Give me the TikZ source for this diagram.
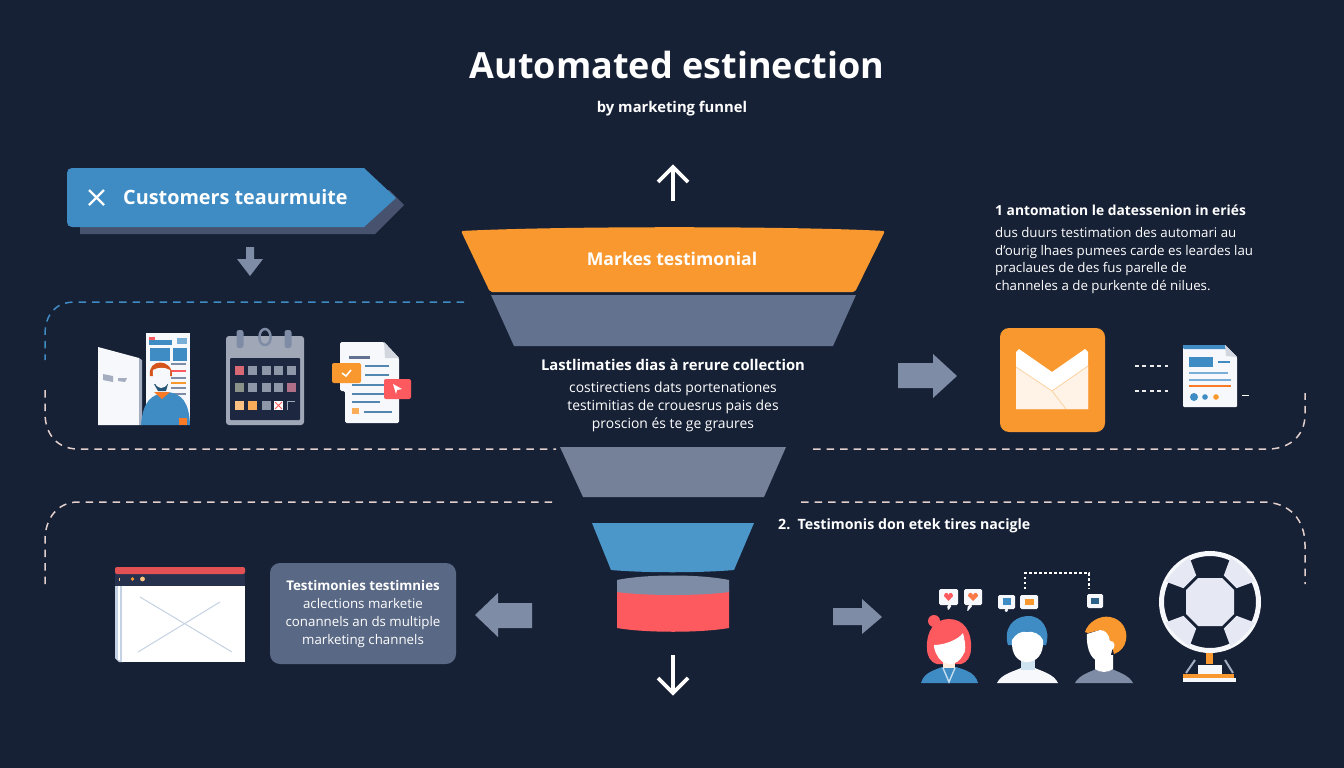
\documentclass[tikz,border=0pt]{standalone}
\usepackage{fontspec}
\setmainfont{Open Sans}
\definecolor{bg}{HTML}{172136}
\definecolor{blu}{HTML}{3F8CC4}
\definecolor{blul}{HTML}{4C97C9}
\definecolor{slate}{HTML}{62728F}
\definecolor{slated}{HTML}{47536E}
\definecolor{gry}{HTML}{7F8CA5}
\definecolor{org}{HTML}{F9982F}
\definecolor{redd}{HTML}{FC5A5F}
\definecolor{dashp}{HTML}{E3D0CC}
\definecolor{paper}{HTML}{F7F8FB}
\definecolor{navy}{HTML}{26324D}
\definecolor{panel}{HTML}{1D2840}
\definecolor{crossline}{HTML}{C5D2E4}
\definecolor{calbody}{HTML}{A0A8B8}
\definecolor{calcell}{HTML}{8D97A8}
\definecolor{patch}{HTML}{E6E9F3}
\tikzset{
  txt/.style={text=white,inner sep=0pt,font=\fontsize{#1}{17.8}\selectfont,align=center},
  hd/.style={text=white,inner sep=0pt,font=\fontsize{#1}{#1}\selectfont\bfseries,align=center},
  dashline/.style={dash pattern=on 7.5pt off 6pt,line width=1.5pt,dashp},
  bluedash/.style={dash pattern=on 7.5pt off 6pt,line width=1.5pt,blu},
  flatarrow/.style={fill=gry},
  whitearrow/.style={draw=white,line width=3.8pt,line join=miter},
  chip/.style={fill=paper,rounded corners=1.5pt}
}
\begin{document}
\begin{tikzpicture}[x=1pt,y=-1pt]
\useasboundingbox (0,0) rectangle (1344,768);
\fill[bg] (0,0) rectangle (1344,768);

% heading
\node[hd=36] (title) at (677,65) {Automated estinection};
\node[hd=14.8] (subtitle) at (672,108.5) {by marketing funnel};

% vertical arrows on the funnel axis
\coordinate (upT) at (673,167);
\coordinate (upB) at (673,201);
\draw[whitearrow] (upB) -- (upT);
\draw[whitearrow] (658,182) -- (upT) -- (688,182);
\coordinate (dnT) at (673,655);
\coordinate (dnB) at (673,693);
\draw[whitearrow] (dnT) -- (dnB);
\draw[whitearrow] (658,678) -- (dnB) -- (688,678);

% funnel stages
\fill[org,rounded corners=2pt] (461,231) .. controls (560,226) and (790,226) .. (885,231) -- (855,292) -- (490,292) -- cycle;
\node[hd=17.6] (stage1) at (672,259) {Markes testimonial};
\fill[slate] (491,295) -- (856,295) -- (833,346) -- (514,346) -- cycle;
\fill[gry!92!black] (560,447) -- (786,447) -- (764,497) -- (583,497) -- cycle;
\fill[blul] (592,523) -- (754,523) -- (734,570) .. controls (700,573) and (645,573) .. (611,570) -- cycle;
\fill[redd] (617,590) -- (729,590) -- (729,628) .. controls (700,633) and (646,633) .. (617,628) -- cycle;
\fill[gry] (617,580) .. controls (646,574) and (700,574) .. (729,580) -- (729,592) .. controls (700,596) and (646,596) .. (617,592) -- cycle;

% middle caption
\node[hd=14.8] (midhead) at (673,365) {Lastlimaties dias à rerure collection};
\node[txt=13.9] (midbody) at (673,407) {costirectiens dats portenationes\\testimitias de crouesrus pais des\\proscion és te ge graures};

% header ribbon
\fill[slated] (80,190) -- (80,234) -- (375,234) -- (404,205) -- (389,190) -- cycle;
\fill[blu] (72,168) -- (364,168) -- (396,198) -- (364,227) -- (72,227) .. controls (69,227) and (67,225) .. (67,222) -- (67,173) .. controls (67,170) and (69,168) .. (72,168) -- cycle;
\node[hd=19.8,anchor=west] (ribbon) at (123,197) {Customers teaurmuite};
\draw[white,line width=2.4pt] (89,190) -- (104,205) (104,190) -- (89,205);

% small flat arrow below the ribbon
\fill[flatarrow] (246,247) -- (254,247) -- (254,259) -- (263,259) -- (250,276) -- (237,259) -- (246,259) -- cycle;

% upper dashed frame
\draw[bluedash] (464,302) -- (75,302) .. controls (55,302) and (45,315) .. (45,335) -- (45,360);
\draw[dashline] (45,390) -- (45,413) .. controls (45,435) and (58,449) .. (78,449) -- (556,449);
\draw[dashline] (813,449) -- (1268,449) .. controls (1290,449) and (1305,435) .. (1305,415) -- (1305,393);

% lower dashed frame
\draw[dashline] (45,584) -- (45,540) .. controls (45,518) and (58,502) .. (78,502) -- (558,502);
\draw[dashline] (801,502) -- (1262,502) .. controls (1290,502) and (1305,520) .. (1305,545) -- (1305,584);

% brochure, door and presenter
\fill[paper] (146,333) rectangle (190,425);
\fill[blu] (149,340) rectangle (172,345);
\fill[redd] (149,337) rectangle (155,340);
\fill[blu] (150,348) rectangle (170,361);
\fill[blu] (173,348) rectangle (187,361);
\fill[blu!70] (177,338) rectangle (187,344);
\foreach \yy/\cc in {363/gry,370/redd,377/gry,382/org,387/gry,393/gry}{\fill[\cc] (171,\yy) rectangle (186,\yy+1.6);}
\fill[paper] (98,347) -- (139,358) -- (139,425) -- (98,425) -- cycle;
\fill[gry!70] (139,358) -- (142,360) -- (142,425) -- (139,425) -- cycle;
\fill[gry!70] (103,374) -- (113,376) -- (113,382) -- (103,380) -- cycle;
\fill[gry!70] (118,378) -- (127,378) -- (125,382) -- (118,381) -- cycle;
\fill[blu] (141,425) .. controls (143,402) and (150,394) .. (168,392) .. controls (182,394) and (189,402) .. (190,425) -- cycle;
\fill[org!80!red] (154,392) -- (170,392) -- (162,399) -- cycle;
\fill[blu!60!black] (154,384) -- (168,384) -- (166,391) -- (158,391) -- cycle;
\fill[org!65!red!85!black] (150,376) .. controls (147,358) and (173,358) .. (172,376) -- cycle;
\fill[paper] (153,370) .. controls (152,382) and (157,388) .. (161,388) .. controls (166,388) and (171,382) .. (170,370) .. controls (165,367) and (158,367) .. (153,370) -- cycle;
\fill[org!80!red] (179,418) rectangle (187,425);

% calendar
\fill[calbody,rounded corners=3pt] (226,336) rectangle (304,425);
\fill[panel,rounded corners=1pt] (230,358) rectangle (300,420);
\foreach \rx in {240,288}{\fill[gry,rounded corners=2.5pt] (\rx-3.5,330) rectangle (\rx+3.5,348);}
\draw[gry,line width=2.5pt] (265,345) .. controls (257,345) and (258,329) .. (265,329) .. controls (272,329) and (273,345) .. (265,345);
\foreach \ry/\cA/\cB/\cC/\cD/\cE in {366/redd!70!gry/calcell/calcell/calcell/calcell,383/blu!60!org/calcell/calcell/calcell/redd!60!blu,401/org!60!white/org!80!white/calcell/white/panel}{
  \fill[\cA] (235,\ry) rectangle +(9,9);
  \fill[\cB] (248,\ry) rectangle +(9,9);
  \fill[\cC] (262,\ry) rectangle +(9,9);
  \fill[\cD] (274,\ry) rectangle +(9,9);
  \fill[\cE] (287,\ry) rectangle +(9,9);
}
\draw[calbody,line width=1pt] (287.5,410) -- (287.5,401.5) -- (295,401.5);
\draw[redd,line width=1pt] (275,402) -- (282,409) (282,402) -- (275,409);

% document with tags
\fill[paper,rounded corners=1.5pt] (340,342) -- (384,342) -- (399,358) -- (399,423) -- (345,423) -- (345,391) -- (340,391) -- cycle;
\fill[gry!35] (384,342) -- (399,358) -- (385,358) -- cycle;
\fill[slate] (349,356) rectangle (370,358.5);
\foreach \ya/\xa/\xb in {365/365/389,374/365/389,384/352/385,393/352/385,401/352/380,411/364/392}{\fill[blu!70!gray] (\xa,\ya) rectangle (\xb,\ya+2);}
\fill[org,rounded corners=2pt] (332,363) rectangle (361,383);
\draw[white,line width=1.6pt] (342,373) -- (346,376) -- (351,370);
\fill[redd,rounded corners=2pt] (384,379) rectangle (411,399);
\fill[white] (393,384) -- (402,389) -- (397,390) -- (396,394) -- cycle;
\fill[org!80] (352,408) rectangle (359,414);

% arrow towards the envelope
\fill[gry] (898,363) -- (933,363) -- (933,354) -- (957,376) -- (933,398) -- (933,388) -- (898,388) -- cycle;

% right caption
\node[hd=13.8,anchor=west] (righthead) at (995,210) {1 antomation le datessenion in eriés};
\node[txt=13.3,align=left,anchor=north west] (rightbody) at (995,227) {dus duurs testimation des automari au\\d'ourig lhaes pumees carde es leardes lau\\praclaues de des fus parelle de\\channeles a de purkente dé nilues.};

% envelope tile
\fill[org,rounded corners=9pt] (1000,328) rectangle (1105,432);
\fill[white] (1016,352) -- (1019,349) -- (1052,372) -- (1085,349) -- (1088,352) -- (1088,409) -- (1016,409) -- cycle;
\fill[white!88!org] (1016,367) -- (1052,391) -- (1088,366) -- (1088,409) -- (1016,409) -- cycle;
\draw[org!45,line width=.8pt] (1016,367) -- (1052,391) -- (1088,366) (1052,391) -- (1066,409);

% report sheet and its dashes
\draw[dash pattern=on 4pt off 3.4pt,line width=1.1pt,white!85!gray] (1135,366) -- (1168,366);
\draw[dash pattern=on 4pt off 3.4pt,line width=1.1pt,white!85!gray] (1135,391) -- (1168,391);
\fill[paper,rounded corners=1pt] (1183,345) -- (1225,345) -- (1237,357) -- (1237,407) -- (1183,407) -- cycle;
\fill[blu,rounded corners=1pt] (1183,345) -- (1225,345) -- (1228,349) -- (1183,349) -- cycle;
\fill[gry!35] (1225,345) -- (1237,357) -- (1226,356) -- cycle;
\fill[blu] (1189,357) rectangle (1213,367);
\fill[blu] (1218,361) rectangle (1230,363);
\fill[blu!70] (1189,372) rectangle (1228,374);
\fill[blu!70] (1189,379) rectangle (1231,381);
\fill[org!80!red] (1189,384.5) rectangle (1231,386.5);
\fill[blu] (1194,397) circle (4);
\fill[blu] (1205,397) circle (2.8);
\fill[org] (1216,397) circle (2.8);
\draw[white,line width=1pt] (1242,395) -- (1249,395);

% lower left arrow and browser window
\fill[gry] (475,615) -- (498,593) -- (498,603) -- (532,603) -- (532,628) -- (498,628) -- (498,637) -- cycle;
\fill[crossline] (115,586) -- (123,586) -- (123,662) -- (119,662) -- (115,658) -- cycle;
\fill[white] (118,586) rectangle (120,660);
\fill[white] (122,586) rectangle (245,662);
\fill[navy] (115,573) rectangle (245,586);
\fill[redd!90!black,rounded corners=2pt] (115,567) rectangle (245,574);
\fill[org!60!white] (118.5,577.5) rectangle (120,581);
\fill[org] (132.5,579) circle (1.8);
\fill[org!60!white] (142.5,579) circle (2.4);
\draw[crossline,line width=1pt] (140,597) -- (232,652) (138,652) -- (220,602);

% caption card
\fill[slate!88!bg,rounded corners=10pt] (270,563) rectangle (456,664);
\node[txt=13.3] (cardbody) at (363,614) {\textbf{Testimonies testimnies}\\aclections marketie\\conannels an ds multiple\\marketing channels};

% right arrow toward the audience
\fill[gry] (833,608) -- (862,608) -- (862,599) -- (882,617) -- (862,634) -- (862,625) -- (833,625) -- cycle;
\node[hd=14.2,anchor=west] (lowerhead) at (778,526) {2.\ \ Testimonis don etek tires nacigle};

% first member of the audience
\fill[blu] (921,683) .. controls (924,672) and (935,670) .. (942,667) -- (956,667) .. controls (965,670) and (975,672) .. (978,683) -- cycle;
\fill[redd] (949,619) .. controls (934,619) and (926,632) .. (927,648) .. controls (927,656) and (930,662) .. (937,664) -- (961,664) .. controls (968,662) and (971,656) .. (971,648) .. controls (972,632) and (964,619) .. (949,619) -- cycle;
\fill[redd] (934,621) circle (6);
\fill[white!85!org] (943,658) rectangle (955,668);
\draw[white!70!blu,line width=1.4pt] (943,668) -- (949,682) -- (955,668);
\fill[white] (934,645) .. controls (944,645) and (958,640) .. (963,633) .. controls (966,645) and (966,652) .. (963,655) .. controls (960,661) and (955,664) .. (950,664) .. controls (944,664) and (939,660) .. (937,655) .. controls (935,652) and (934,648) .. (934,645) -- cycle;

% second member of the audience
\fill[paper] (997,683) .. controls (1001,674) and (1015,671) .. (1021,668) -- (1035,668) .. controls (1041,671) and (1054,674) .. (1058,683) -- cycle;
\fill[blu!25!white] (1021,656) rectangle (1035,670);
\fill[blu] (1008,645) .. controls (1003,630) and (1012,617) .. (1027,616) .. controls (1042,615) and (1051,630) .. (1046,645) -- cycle;
\fill[white] (1012,640) .. controls (1016,634) and (1020,631) .. (1027,632) .. controls (1034,631) and (1040,634) .. (1043,640) .. controls (1044,655) and (1036,662) .. (1027,662) .. controls (1018,662) and (1011,655) .. (1012,640) -- cycle;

% third member of the audience
\fill[gry] (1075,683) .. controls (1079,675) and (1090,672) .. (1096,669) .. controls (1100,673) and (1108,673) .. (1112,669) .. controls (1118,672) and (1129,675) .. (1133,683) -- cycle;
\fill[white] (1095,655) -- (1113,655) -- (1113,669) .. controls (1108,673) and (1100,673) .. (1095,669) -- cycle;
\fill[org] (1085,632) .. controls (1088,622) and (1100,615) .. (1110,617) .. controls (1122,619) and (1128,630) .. (1126,640) .. controls (1125,647) and (1120,652) .. (1114,654) -- (1110,640) -- (1100,630) -- (1088,633) -- cycle;
\fill[white] (1087,634) -- (1100,630) .. controls (1105,630) and (1109,634) .. (1110,641) .. controls (1115,640) and (1116,648) .. (1112,650) .. controls (1111,658) and (1106,662) .. (1102,662) .. controls (1093,662) and (1086,652) .. (1087,634) -- cycle;

% reaction chips
\fill[chip] (939,589) rectangle (958,605);
\fill[chip] (947,605) -- (952,605) -- (948,611) -- cycle;
\fill[redd] (948.5,601) -- (944,596) .. controls (944,592) and (948,592) .. (948.5,595) .. controls (949,592) and (953,592) .. (953,596) -- cycle;
\fill[chip] (964,589) rectangle (982,605);
\fill[chip] (968,605) -- (973,605) -- (967,612) -- cycle;
\fill[org!50!redd] (973,601) -- (968,596) .. controls (968,592) and (972,592) .. (973,595) .. controls (974,592) and (978,592) .. (978,596) -- cycle;
\fill[chip] (998,595) rectangle (1015,609);
\fill[chip] (1004,609) -- (1009,609) -- (1006,613) -- cycle;
\fill[blu] (1003,598) rectangle (1011,605);
\fill[chip] (1020,595) rectangle (1038,609);
\fill[org] (1025,599) rectangle (1034,605);
\fill[chip] (1087,594) rectangle (1103,608);
\fill[blu!70!black] (1091,598) rectangle (1099,604);
\draw[white,dash pattern=on 2.5pt off 2.5pt,line width=1.2pt] (1025,589) -- (1025,573) -- (1089,573) -- (1089,589);

% ball on a stand
\draw[gry!70,line width=2pt] (1195,660) -- (1186,673) (1225,660) -- (1233,673);
\fill[paper] (1198,665) rectangle (1222,674);
\fill[org] (1183,674) rectangle (1234,678);
\fill[paper] (1183,678) rectangle (1236,682);
\fill[org] (1206,652) rectangle (1213,664);
\fill[bg] (1210,602) circle (47);
\draw[paper,line width=5pt] (1210,602) circle (48.5);
\fill[patch] (1198,578) -- (1222,578) -- (1234,590) -- (1234,614) -- (1222,626) -- (1198,626) -- (1186,614) -- (1186,590) -- cycle;
\foreach \a in {45,135,225,315}{
  \begin{scope}[shift={(1210,602)},rotate=\a]
    \fill[patch] (28.5,-9) -- (46,-17) .. controls (48,-6) and (48,6) .. (46,17) -- (28.5,9) -- cycle;
  \end{scope}}
\end{tikzpicture}
\end{document}
